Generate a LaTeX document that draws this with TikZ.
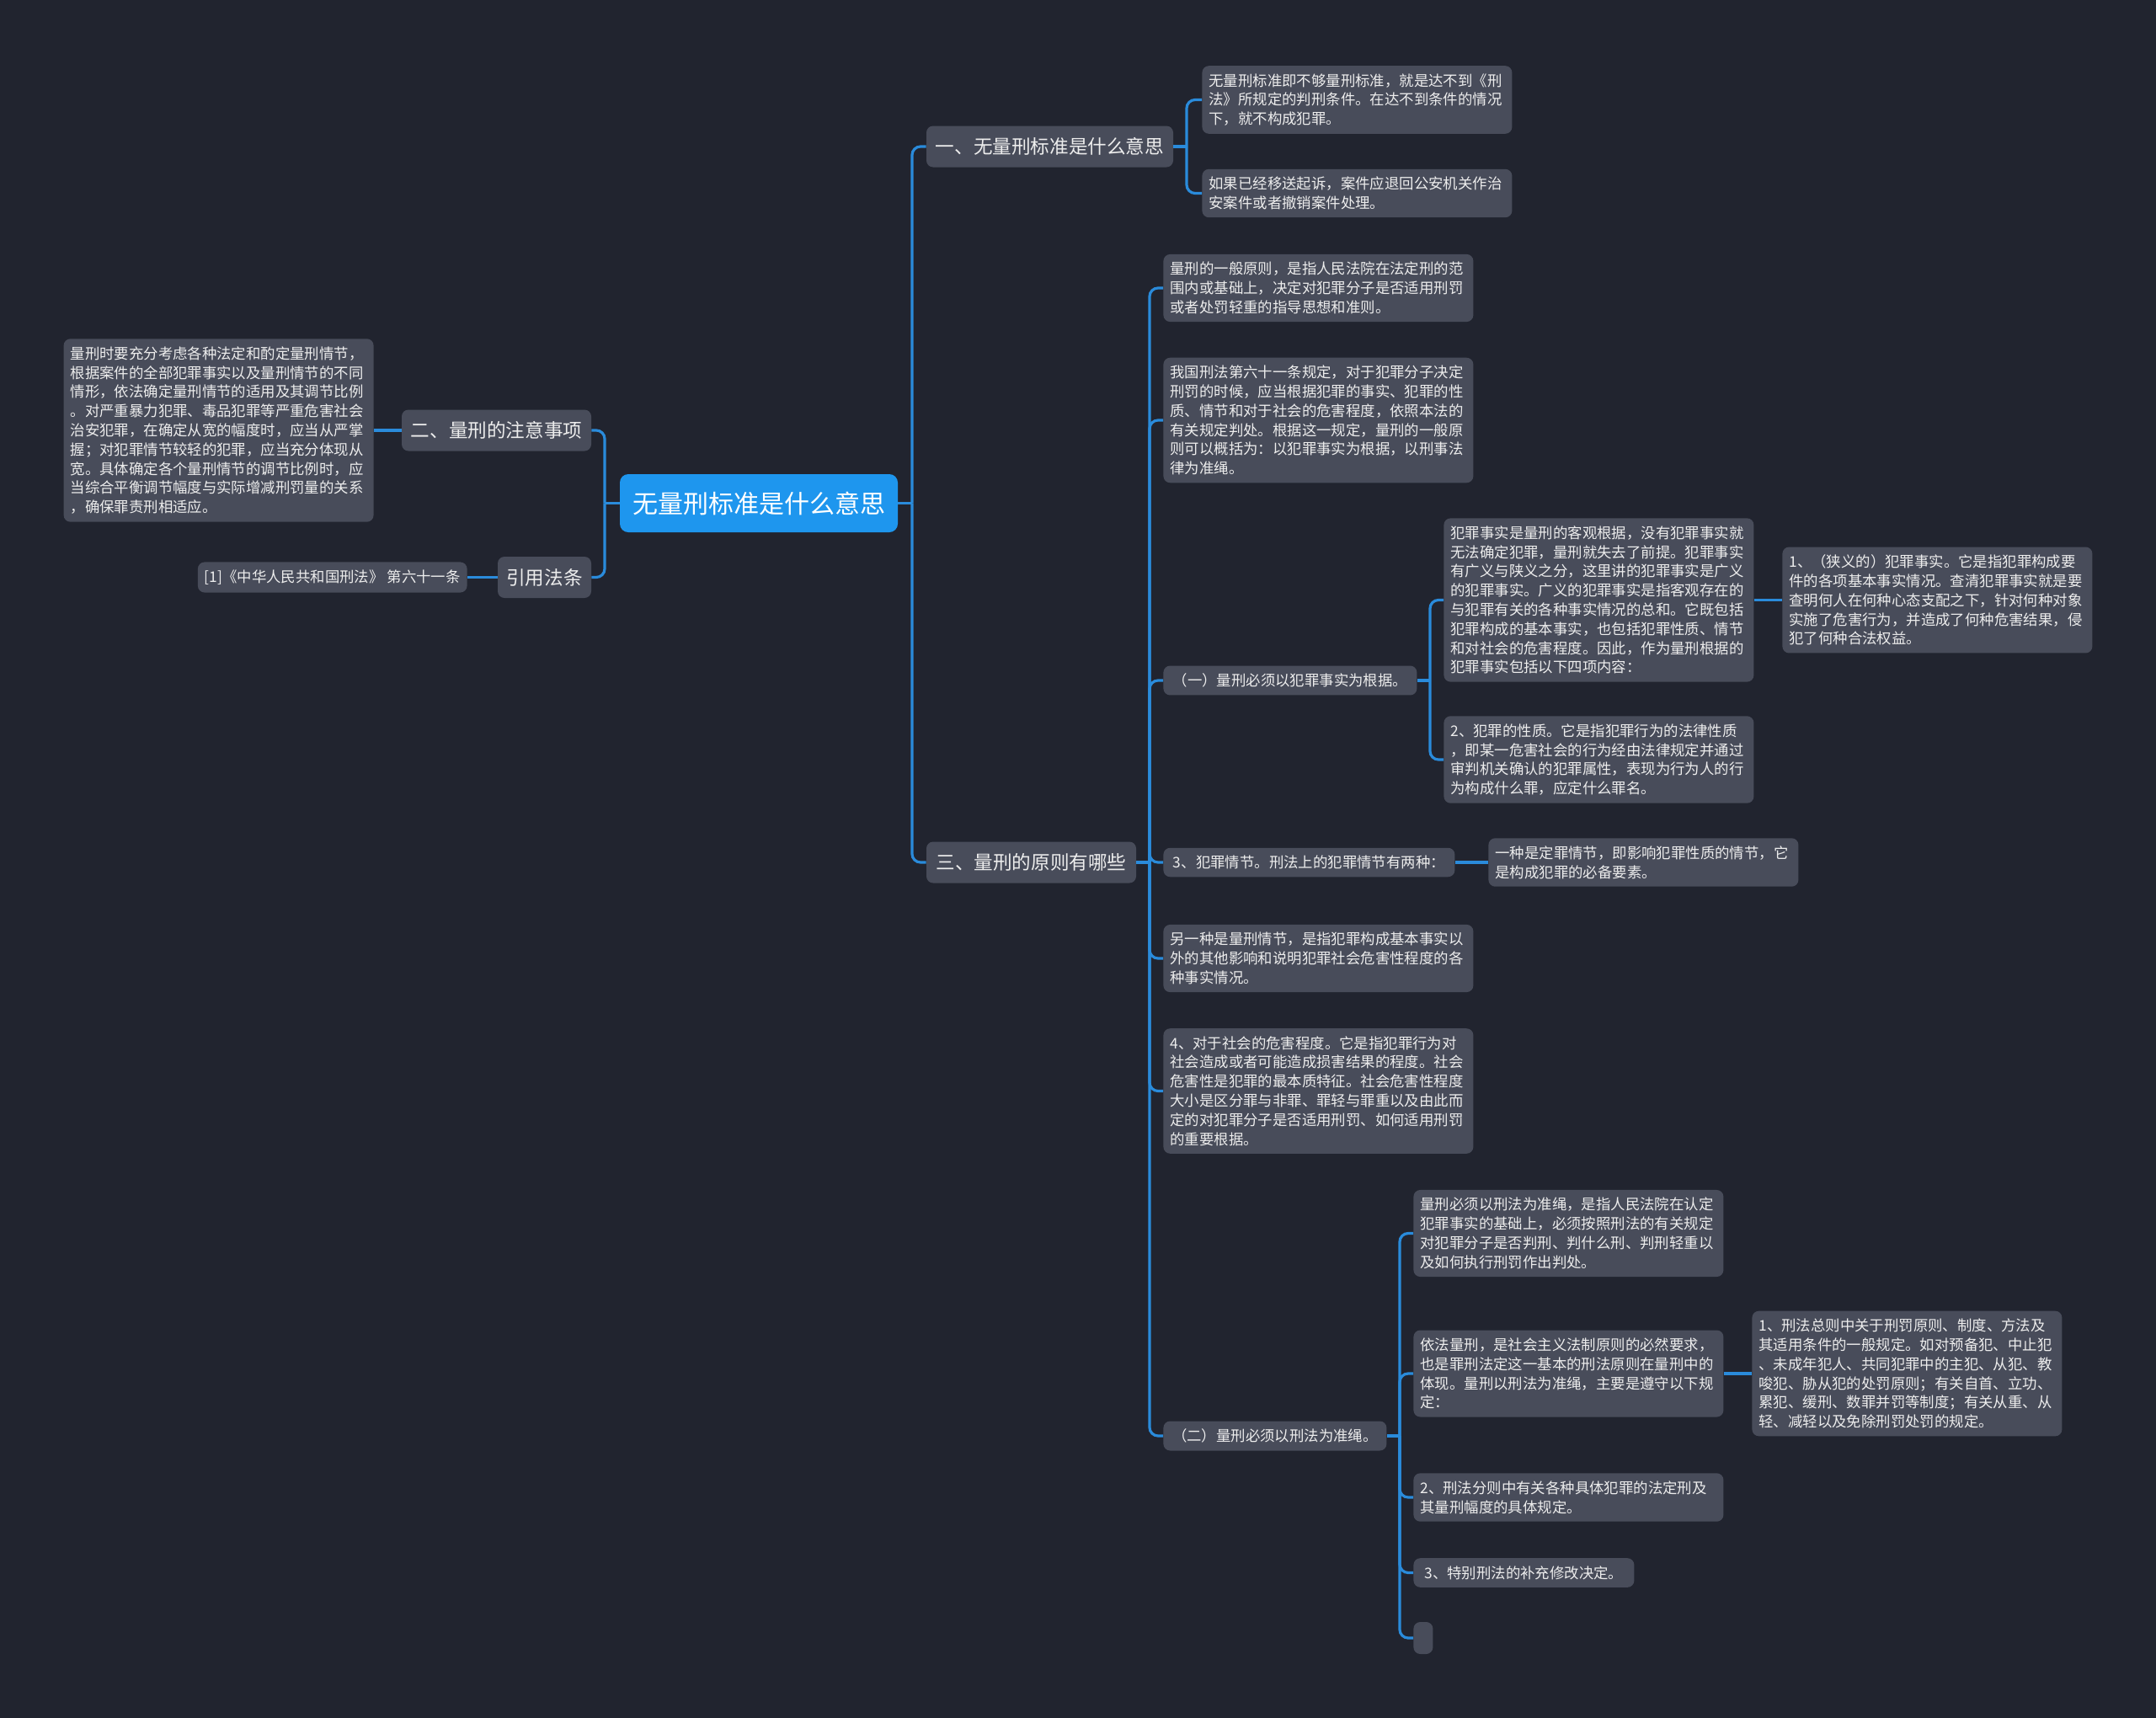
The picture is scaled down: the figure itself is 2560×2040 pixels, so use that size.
\documentclass[tikz,border=0pt]{standalone}
\usepackage{fontspec}
\newfontfamily\cjk{Noto Sans CJK SC}
\usetikzlibrary{calc}
\definecolor{bgc}{HTML}{21242F}
\definecolor{boxc}{HTML}{484C5A}
\definecolor{linec}{HTML}{2A8BDB}
\definecolor{rootc}{HTML}{1E96EE}
\definecolor{txtc}{HTML}{EDEDED}
\tikzset{
  leaf/.style={fill=boxc, rounded corners=4pt, text=txtc, font=\cjk\fontsize{8.7pt}{11.4pt}\selectfont, inner xsep=4pt, inner ysep=4.6pt, align=left, text width=176pt, anchor=west},
  one/.style={fill=boxc, rounded corners=4pt, text=txtc, font=\cjk\fontsize{8.7pt}{11.4pt}\selectfont, inner xsep=4pt, inner ysep=4.6pt, anchor=west},
  mainbox/.style={fill=boxc, rounded corners=4pt, text=txtc, font=\cjk\fontsize{11.3pt}{13pt}\selectfont, minimum height=24.5pt, inner sep=0pt},
  rootbox/.style={fill=rootc, rounded corners=5pt, text=white, font=\cjk\fontsize{15pt}{18pt}\selectfont, minimum width=165pt, minimum height=34.5pt, inner sep=0pt},
  conn/.style={draw=linec, line width=1.6pt},
  bendc/.style={conn, rounded corners=5pt}
}
\begin{document}
\begin{tikzpicture}[x=0.5pt, y=-0.5pt]
\fill[bgc] (0,0) rectangle (2560,2040);
\useasboundingbox (0,0) rectangle (2560,2040);

% root and level 1
\node[rootbox] (R) at (901,597.5) {无量刑标准是什么意思};
\node[mainbox, minimum width=146.5pt] (N1) at (1246.5,174) {一、无量刑标准是什么意思};
\node[mainbox, minimum width=124.5pt] (N3) at (1224.5,1024) {三、量刑的原则有哪些};
\node[mainbox, minimum width=112.5pt] (N2) at (589.5,511) {二、量刑的注意事项};
\node[mainbox, minimum width=55.5pt] (N4) at (646.5,685.5) {引用法条};

% left side
\node[leaf, anchor=east] (L1) at (444,511) {量刑时要充分考虑各种法定和酌定量刑情节，\\根据案件的全部犯罪事实以及量刑情节的不同\\情形，依法确定量刑情节的适用及其调节比例\\。对严重暴力犯罪、毒品犯罪等严重危害社会\\治安犯罪，在确定从宽的幅度时，应当从严掌\\握；对犯罪情节较轻的犯罪，应当充分体现从\\宽。具体确定各个量刑情节的调节比例时，应\\当综合平衡调节幅度与实际增减刑罚量的关系\\，确保罪责刑相适应。};
\node[one, anchor=east] (L2) at (555,685.5) {[1]《中华人民共和国刑法》 第六十一条};

% branch 一
\node[leaf] (A1) at (1427,118.5) {无量刑标准即不够量刑标准，就是达不到《刑\\法》所规定的判刑条件。在达不到条件的情况\\下，就不构成犯罪。};
\node[leaf] (A2) at (1427,229.5) {如果已经移送起诉，案件应退回公安机关作治\\安案件或者撤销案件处理。};

% branch 三
\node[leaf] (B1) at (1381,342) {量刑的一般原则，是指人民法院在法定刑的范\\围内或基础上，决定对犯罪分子是否适用刑罚\\或者处罚轻重的指导思想和准则。};
\node[leaf] (B2) at (1381,499) {我国刑法第六十一条规定，对于犯罪分子决定\\刑罚的时候，应当根据犯罪的事实、犯罪的性\\质、情节和对于社会的危害程度，依照本法的\\有关规定判处。根据这一规定，量刑的一般原\\则可以概括为：以犯罪事实为根据，以刑事法\\律为准绳。};
\node[one, minimum width=150.5pt] (B3) at (1381,808) {（一）量刑必须以犯罪事实为根据。};
\node[one, minimum width=173pt] (B4) at (1381,1024) {3、犯罪情节。刑法上的犯罪情节有两种：};
\node[leaf] (B5) at (1381,1138) {另一种是量刑情节，是指犯罪构成基本事实以\\外的其他影响和说明犯罪社会危害性程度的各\\种事实情况。};
\node[leaf] (B6) at (1381,1295.5) {4、对于社会的危害程度。它是指犯罪行为对\\社会造成或者可能造成损害结果的程度。社会\\危害性是犯罪的最本质特征。社会危害性程度\\大小是区分罪与非罪、罪轻与罪重以及由此而\\定的对犯罪分子是否适用刑罚、如何适用刑罚\\的重要根据。};
\node[one, minimum width=132.5pt] (B7) at (1381,1705) {（二）量刑必须以刑法为准绳。};

% under B3
\node[leaf] (C1) at (1714,712.5) {犯罪事实是量刑的客观根据，没有犯罪事实就\\无法确定犯罪，量刑就失去了前提。犯罪事实\\有广义与陕义之分，这里讲的犯罪事实是广义\\的犯罪事实。广义的犯罪事实是指客观存在的\\与犯罪有关的各种事实情况的总和。它既包括\\犯罪构成的基本事实，也包括犯罪性质、情节\\和对社会的危害程度。因此，作为量刑根据的\\犯罪事实包括以下四项内容：};
\node[leaf] (C2) at (1714,902) {2、犯罪的性质。它是指犯罪行为的法律性质\\，即某一危害社会的行为经由法律规定并通过\\审判机关确认的犯罪属性，表现为行为人的行\\为构成什么罪，应定什么罪名。};
\node[leaf] (D1) at (2116,712.5) {1、（狭义的）犯罪事实。它是指犯罪构成要\\件的各项基本事实情况。查清犯罪事实就是要\\查明何人在何种心态支配之下，针对何种对象\\实施了危害行为，并造成了何种危害结果，侵\\犯了何种合法权益。};

% under B4
\node[leaf] (C3) at (1767,1024) {一种是定罪情节，即影响犯罪性质的情节，它\\是构成犯罪的必备要素。};

% under B7
\node[leaf] (C4) at (1678,1464.5) {量刑必须以刑法为准绳，是指人民法院在认定\\犯罪事实的基础上，必须按照刑法的有关规定\\对犯罪分子是否判刑、判什么刑、判刑轻重以\\及如何执行刑罚作出判处。};
\node[leaf] (C5) at (1678,1631) {依法量刑，是社会主义法制原则的必然要求，\\也是罪刑法定这一基本的刑法原则在量刑中的\\体现。量刑以刑法为准绳，主要是遵守以下规\\定：};
\node[leaf] (C6) at (1678,1778) {2、刑法分则中有关各种具体犯罪的法定刑及\\其量刑幅度的具体规定。};
\node[one, minimum width=131pt] (C7) at (1678,1867.5) {3、特别刑法的补充修改决定。};
\node[one, minimum width=11.5pt, minimum height=19pt, inner sep=0pt] (C8) at (1678,1945) {};
\node[leaf] (D2) at (2080,1631) {1、刑法总则中关于刑罚原则、制度、方法及\\其适用条件的一般规定。如对预备犯、中止犯\\、未成年犯人、共同犯罪中的主犯、从犯、教\\唆犯、胁从犯的处罚原则；有关自首、立功、\\累犯、缓刑、数罪并罚等制度；有关从重、从\\轻、减轻以及免除刑罚处罚的规定。};

% trunk coordinates
\coordinate (tR) at (1083,597.5);
\coordinate (tL) at (718,597.5);
\coordinate (t1) at (1409,174);
\coordinate (t3) at (1365,1024);
\coordinate (t4) at (1698,808);
\coordinate (t5) at (1662,1705);

% connectors
\draw[conn] (R.east) -- (tR);
\draw[bendc] (tR) |- (N1.west);
\draw[bendc] (tR) |- (N3.west);
\draw[conn] (R.west) -- (tL);
\draw[bendc] (tL) |- (N2.east);
\draw[bendc] (tL) |- (N4.east);
\draw[conn] (N2.west) -- (L1.east);
\draw[conn] (N4.west) -- (L2.east);

\draw[conn] (N1.east) -- (t1);
\draw[bendc] (t1) |- (A1.west);
\draw[bendc] (t1) |- (A2.west);

\draw[conn] (N3.east) -- (t3);
\foreach \n in {B1,B2,B3,B4,B5,B6,B7} \draw[bendc] (t3) |- (\n.west);

\draw[conn] (B3.east) -- (t4);
\draw[bendc] (t4) |- (C1.west);
\draw[bendc] (t4) |- (C2.west);
\draw[conn] (C1.east) -- (D1.west);

\draw[conn] (B4.east) -- (C3.west);

\draw[conn] (B7.east) -- (t5);
\foreach \n in {C4,C5,C6,C7,C8} \draw[bendc] (t5) |- (\n.west);
\draw[conn] (C5.east) -- (D2.west);
\end{tikzpicture}
\end{document}
